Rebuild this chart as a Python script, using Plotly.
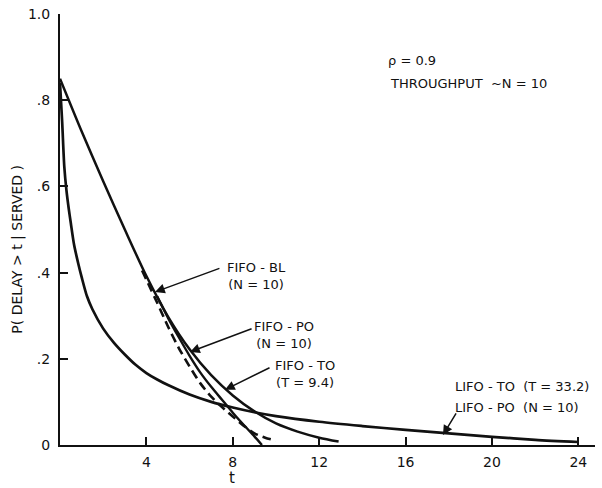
import plotly.graph_objects as go

# ---- data ----
t_fifo_bl = [0, 1, 2, 3, 4, 5, 6, 7, 8, 9, 10, 11, 12, 12.9]
p_fifo_bl = [0.85, 0.728, 0.612, 0.5, 0.392, 0.298, 0.222, 0.162, 0.115, 0.078, 0.05, 0.031, 0.017, 0.008]

t_fifo_po = [3.8, 4.5, 5.0, 5.5, 6.0, 6.5, 7.0, 7.5, 8.0, 8.5, 9.0, 9.5, 10.0]
p_fifo_po = [0.405, 0.33, 0.275, 0.225, 0.182, 0.143, 0.112, 0.088, 0.066, 0.045, 0.027, 0.017, 0.01]

t_fifo_to = [4.5, 5.0, 5.5, 6.0, 6.5, 7.0, 7.5, 8.0, 8.5, 9.0, 9.35]
p_fifo_to = [0.345, 0.295, 0.25, 0.207, 0.168, 0.135, 0.105, 0.075, 0.047, 0.02, 0.0]

t_lifo = [0, 0.1, 0.2, 0.3, 0.4, 0.5, 0.65, 0.85, 1.0, 1.25, 1.5, 2.0, 2.5, 3.0, 3.5, 4.0, 4.5, 5, 6, 7, 8, 9, 10, 12, 14, 16, 18, 20, 22, 24]
p_lifo = [0.84, 0.75, 0.645, 0.59, 0.55, 0.515, 0.465, 0.42, 0.39, 0.345, 0.315, 0.27, 0.237, 0.21, 0.186, 0.167, 0.152, 0.139, 0.117, 0.1, 0.087, 0.076, 0.067, 0.054, 0.044, 0.035, 0.027, 0.019, 0.012, 0.007]

x_tick_vals = [4, 8, 12, 16, 20, 24]
x_tick_text = ["4", "8", "12", "16", "20", "24"]
y_tick_vals = [0, 0.2, 0.4, 0.6, 0.8, 1.0]
y_tick_text = ["0", ".2", ".4", ".6", ".8", "1.0"]

FONT = "DejaVu Sans"
BLACK = "#111111"

fig = go.Figure()

fig.add_trace(go.Scatter(x=t_fifo_bl, y=p_fifo_bl, mode="lines",
                         line=dict(color=BLACK, width=2.5, shape="spline", smoothing=0.8),
                         name="FIFO-BL"))
fig.add_trace(go.Scatter(x=t_fifo_to, y=p_fifo_to, mode="lines",
                         line=dict(color=BLACK, width=2.4, shape="spline", smoothing=0.6),
                         name="FIFO-TO"))
fig.add_trace(go.Scatter(x=t_fifo_po, y=p_fifo_po, mode="lines",
                         line=dict(color=BLACK, width=2.6, dash="9px,5px", shape="spline", smoothing=0.6),
                         name="FIFO-PO"))
fig.add_trace(go.Scatter(x=t_lifo, y=p_lifo, mode="lines",
                         line=dict(color=BLACK, width=2.7, shape="spline", smoothing=0.8),
                         name="LIFO"))

# arrows: (tip x, tip y, tail x, tail y)
arrows = [
    (4.40, 0.355, 7.45, 0.411),
    (6.02, 0.216, 8.94, 0.271),
    (7.64, 0.128, 9.77, 0.181),
    (17.73, 0.023, 18.38, 0.077),
]
for (x, y, ax, ay) in arrows:
    fig.add_annotation(x=x, y=y, ax=ax, ay=ay, xref="x", yref="y", axref="x", ayref="y",
                       text="", showarrow=True, arrowhead=2, arrowsize=1.3,
                       arrowwidth=1.5, arrowcolor=BLACK)

labels = [
    ("FIFO - BL<br>(N = 10)", 9.1, 0.393, "center"),
    ("FIFO - PO<br>(N = 10)", 10.37, 0.255, "center"),
    ("FIFO - TO<br>(T = 9.4)", 11.34, 0.164, "center"),
    ("LIFO - TO  (T = 33.2)", 18.2, 0.135, "left"),
    ("LIFO - PO  (N = 10)", 18.2, 0.088, "left"),
    ("ρ = 0.9", 15.1, 0.893, "left"),
    ("THROUGHPUT  ~N = 10", 15.2, 0.838, "left"),
]
for (txt, x, y, anc) in labels:
    fig.add_annotation(x=x, y=y, xref="x", yref="y", text=txt, showarrow=False,
                       xanchor=anc, yanchor="middle", align="center",
                       font=dict(family=FONT, size=13, color=BLACK))

# axis titles as annotations
fig.add_annotation(x=-0.079, y=0.455, xref="paper", yref="paper",
                   text="P( DELAY > t | SERVED )", textangle=-90, showarrow=False,
                   xanchor="center", yanchor="middle",
                   font=dict(family=FONT, size=14, color=BLACK))
fig.add_annotation(x=7.96, y=-0.077, xref="x", yref="paper", text="t", showarrow=False,
                   xanchor="center", yanchor="middle",
                   font=dict(family=FONT, size=15, color=BLACK))

fig.update_layout(
    width=602, height=488,
    margin=dict(l=60, r=7, t=14, b=43),
    paper_bgcolor="white", plot_bgcolor="white",
    showlegend=False,
    xaxis=dict(range=[0, 24.77], tickvals=x_tick_vals, ticktext=x_tick_text,
               ticks="inside", ticklen=8, tickwidth=1.5, tickcolor=BLACK,
               showline=True, linecolor=BLACK, linewidth=2, showgrid=False, zeroline=False,
               ticklabelstandoff=3,
               tickfont=dict(family=FONT, size=14, color=BLACK)),
    yaxis=dict(range=[0, 1.0], tickvals=y_tick_vals, ticktext=y_tick_text,
               ticks="inside", ticklen=8, tickwidth=1.5, tickcolor=BLACK,
               showline=True, linecolor=BLACK, linewidth=2, showgrid=False, zeroline=False,
               ticklabelstandoff=5,
               tickfont=dict(family=FONT, size=14, color=BLACK)),
)

fig.write_html("out.html")
